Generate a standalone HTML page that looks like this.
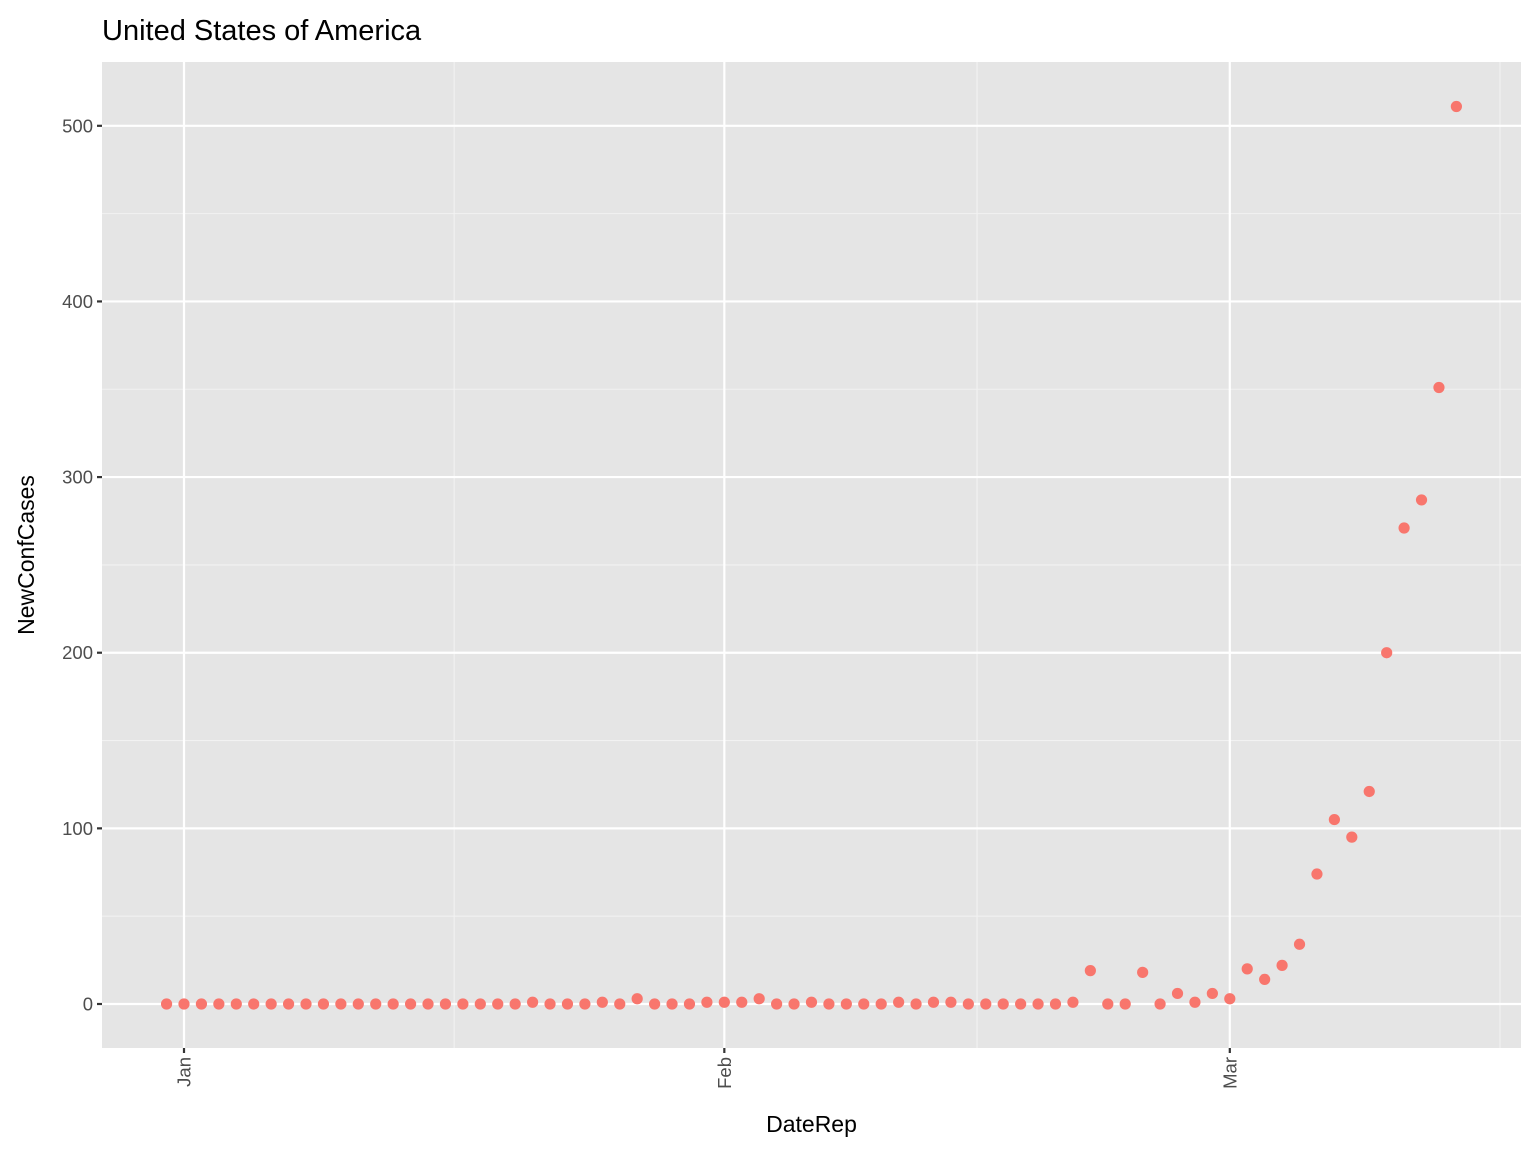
<!DOCTYPE html>
<html><head><meta charset="utf-8"><style>
body{margin:0;background:#fff;font-family:"Liberation Sans",Arial,sans-serif}
svg text{font-family:"Liberation Sans",Arial,sans-serif}
</style></head><body>
<svg width="1536" height="1152" xmlns="http://www.w3.org/2000/svg">
<g id="root"></g>
</svg>
<script>
const startDayOffset = -1; // first point: Dec 31 (day offset from Jan 1)
const newCases = [0,0,0,0,0,0,0,0,0,0,0,0,0,0,0,0,0,0,0,0,0,1,0,0,0,1,0,3,0,0,0,1,1,1,3,0,0,1,0,0,0,0,1,0,1,1,0,0,0,0,0,0,1,19,0,0,18,0,6,1,6,3,20,14,22,34,74,105,95,121,200,271,287,351,511];
const yTicks = [0,100,200,300,400,500];
const yMinor = [50,150,250,350,450];
const xTickLabels = ["Jan","Feb","Mar"];
const xTickDays = [0,31,60];
const xMinorDays = [15.5,45.5,75.5];

const NS="http://www.w3.org/2000/svg";
const root=document.getElementById('root');
const P={l:102,r:1521,t:62,b:1048};
const X=d=>184+d*17.43;
const Y=v=>1004-v*1.7564;
function el(tag,attrs,parent){const e=document.createElementNS(NS,tag);for(const k in attrs)e.setAttribute(k,attrs[k]);(parent||root).appendChild(e);return e;}

const bg=el('rect',{x:P.l,y:P.t,width:P.r-P.l,height:P.b-P.t,fill:'#E5E5E5'});



yMinor.forEach(v=>{const l=el('line',{x1:P.l,x2:P.r,y1:Y(v),y2:Y(v),stroke:'#F2F2F2','stroke-width':1.1});

});
xMinorDays.forEach(d=>{const l=el('line',{x1:X(d),x2:X(d),y1:P.t,y2:P.b,stroke:'#F2F2F2','stroke-width':1.1});

});
yTicks.forEach(v=>{const l=el('line',{x1:P.l,x2:P.r,y1:Y(v),y2:Y(v),stroke:'#fff','stroke-width':2.2});


const t=el('line',{x1:P.l-5,x2:P.l,y1:Y(v),y2:Y(v),stroke:'#333','stroke-width':2.2});


const tx=el('text',{x:P.l-9,y:Y(v)+6.5,'text-anchor':'end','font-size':18.5,fill:'#4D4D4D'});tx.textContent=v;

});
xTickDays.forEach((d,i)=>{const l=el('line',{x1:X(d),x2:X(d),y1:P.t,y2:P.b,stroke:'#fff','stroke-width':2.2});


const t=el('line',{x1:X(d),x2:X(d),y1:P.b,y2:P.b+5,stroke:'#333','stroke-width':2.2});


const tx=el('text',{x:0,y:0,'text-anchor':'end','font-size':18.5,fill:'#4D4D4D',transform:`translate(${X(d)+6.5},${P.b+9}) rotate(-90)`});tx.textContent=xTickLabels[i];

});

newCases.forEach((v,i)=>{const c=el('circle',{cx:X(startDayOffset+i),cy:Y(v),r:5.6,fill:'#F8766D'});

});

const title=el('text',{x:102,y:40,'font-size':29,fill:'#000'});title.textContent='United States of America';


const xt=el('text',{x:(P.l+P.r)/2,y:1132,'text-anchor':'middle','font-size':23,fill:'#000'});xt.textContent='DateRep';


const yt=el('text',{x:0,y:0,'text-anchor':'middle','font-size':23,fill:'#000',transform:`translate(34,${(P.t+P.b)/2}) rotate(-90)`});yt.textContent='NewConfCases';


</script>
</body></html>
